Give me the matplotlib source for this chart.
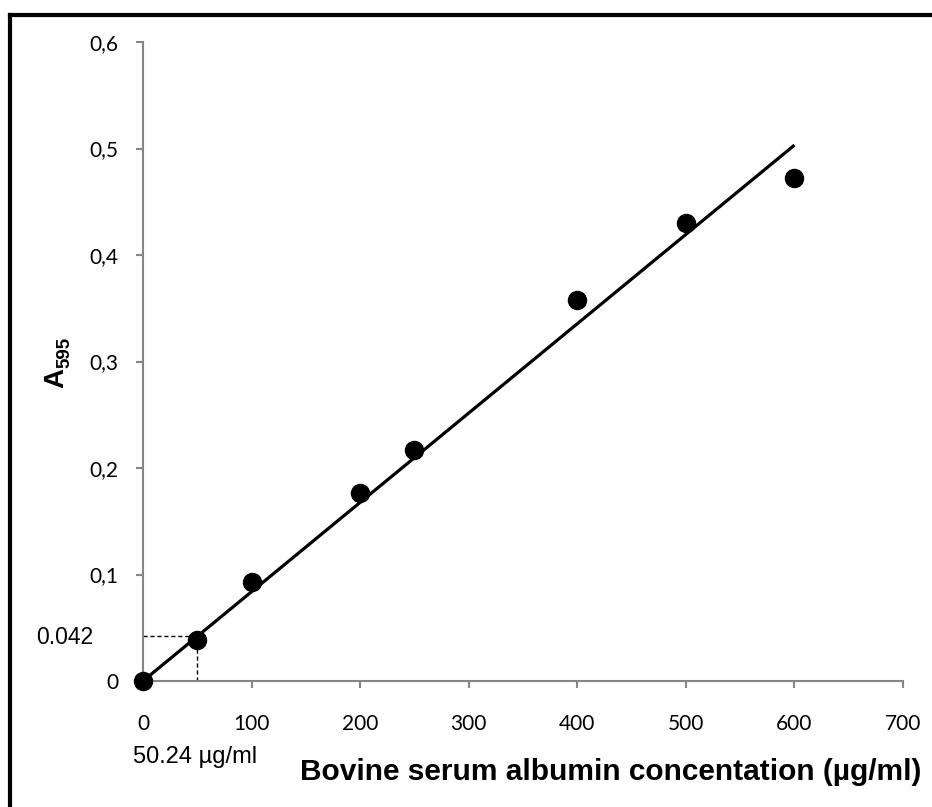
import matplotlib
matplotlib.use("Agg")
import matplotlib.pyplot as plt
import numpy as np
from matplotlib.lines import Line2D

# Data
concentration = [0, 50, 100, 200, 250, 400, 500, 600]
absorbance = [0.0, 0.0385, 0.093, 0.1765, 0.217, 0.358, 0.430, 0.472]
x_ticks = [0, 100, 200, 300, 400, 500, 600, 700]
y_ticks = [0, 0.1, 0.2, 0.3, 0.4, 0.5, 0.6]
y_tick_labels = ["0", "0,1", "0,2", "0,3", "0,4", "0,5", "0,6"]
marker_x = 50
marker_y = 0.042

fig = plt.figure(figsize=(9.32, 8.07), dpi=100)
ax = fig.add_axes([143/932, 1 - 681/807, (903-143)/932, (681-42)/807])

xa = np.array(concentration, dtype=float)
ya = np.array(absorbance, dtype=float)
slope = (xa * ya).sum() / (xa * xa).sum()
fit_x = np.array([0, max(concentration)])
ax.plot(fit_x, slope * fit_x, color='black', lw=2.3, zorder=3, solid_capstyle='butt')
ax.plot(concentration, absorbance, 'o', color='black', ms=13, zorder=4, clip_on=False)

ax.plot([0, marker_x], [marker_y, marker_y], color='black', lw=1, ls=(0, (3, 2)), zorder=2)
ax.plot([marker_x, marker_x], [0, marker_y], color='black', lw=1, ls=(0, (3, 2)), zorder=2)

ax.set_xlim(0, 700)
ax.set_ylim(0, 0.6)
ax.set_xticks(x_ticks)
ax.set_xticklabels([str(t) for t in x_ticks])
ax.set_yticks(y_ticks)
ax.set_yticklabels(y_tick_labels)

gray = '#868686'
for s in ['top', 'right']:
    ax.spines[s].set_visible(False)
for s in ['left', 'bottom']:
    ax.spines[s].set_color(gray)
    ax.spines[s].set_linewidth(1.5)
ax.tick_params(axis='both', direction='out', color=gray, width=1.5, length=5,
               labelsize=15, labelcolor='black')
for lab in ax.get_xticklabels() + ax.get_yticklabels():
    lab.set_fontfamily('Lato')
ax.tick_params(axis='x', pad=18.5)
ax.tick_params(axis='y', pad=12.5)

fig.text(611/932, 1 - 772/807, 'Bovine serum albumin concentation (µg/ml)',
         ha='center', va='center', fontsize=21.5, fontweight='bold', family='Liberation Sans')
# y label: A with subscript 595
fig.text(56/932, 1 - 378/807, 'A', ha='center', va='center', rotation=90,
         fontsize=20, fontweight='bold', family='Liberation Sans')
fig.text(65/932, 1 - 352/807, '595', ha='center', va='center', rotation=90,
         fontsize=13.5, fontweight='bold', family='Liberation Sans')
fig.text(65/932, 1 - 638/807, '0.042', ha='center', va='center', fontsize=16.5,
         family='Liberation Sans')
fig.text(195/932, 1 - 757/807, '50.24 µg/ml', ha='center', va='center', fontsize=17,
         family='Liberation Sans')

# figure border (left and top visible)
fig.add_artist(Line2D([9.5/932, 9.5/932], [0, 1 - 15/807], color='black', lw=3,
                      transform=fig.transFigure, solid_capstyle='projecting'))
fig.add_artist(Line2D([9.5/932, 1], [1 - 15/807, 1 - 15/807], color='black', lw=3,
                      transform=fig.transFigure, solid_capstyle='projecting'))

fig.savefig('out.png', dpi=100)
